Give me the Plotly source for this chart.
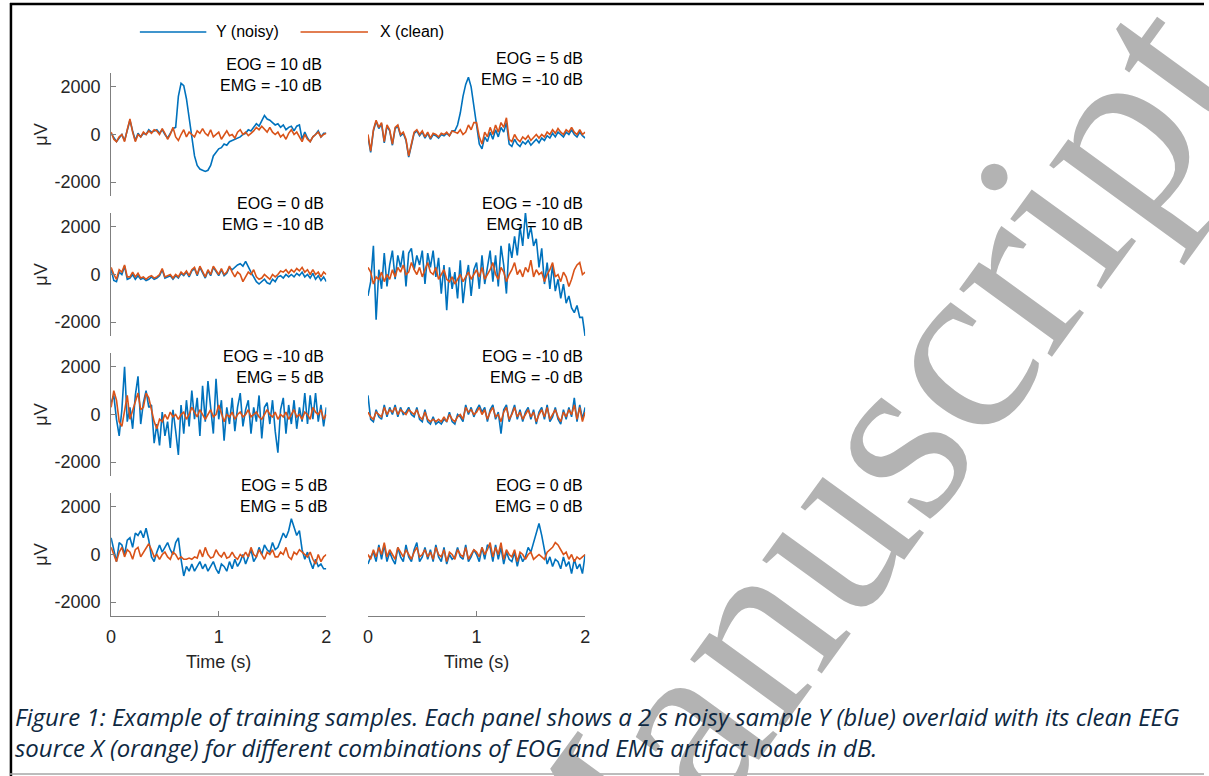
import numpy as np
import plotly.graph_objects as go

# ---------------- data ----------------
t = np.linspace(0, 2, 81)  # sample times (s)

labels_eog = ["EOG = 10 dB", "EOG = 5 dB", "EOG = 0 dB", "EOG = -10 dB",
              "EOG = -10 dB", "EOG = -10 dB", "EOG = 5 dB", "EOG = 0 dB"]
labels_emg = ["EMG = -10 dB", "EMG = -10 dB", "EMG = -10 dB", "EMG = 10 dB",
              "EMG = 5 dB", "EMG = -0 dB", "EMG = 5 dB", "EMG = 0 dB"]

legend_names = ["Y (noisy)", "X (clean)"]
x_ticks = [0, 1, 2]
y_ticks = [-2000, 0, 2000]

# panel 1: EOG 10 / EMG -10
x1 = [100, -200, -300, -100, 0, -300, 200, 650, 100, -300,
      0, -100, 100, 0, 150, 50, 200, 150, 0, 250,
      50, -200, 0, 300, -100, -250, 0, 200, -100, 100,
      0, -100, 150, 50, 250, 50, -50, 200, -100, 0,
      100, -200, 0, 150, -50, 0, -150, 100, 200, 0,
      100, -50, 50, 150, 300, 200, 350, 200, 100, 300,
      100, 0, 100, -100, 0, -200, 50, 200, 0, 100,
      -100, -300, 0, -200, -300, -100, 0, 100, -100, 0,
      50]
y1 = [50, -150, -300, -150, 0, -250, 200, 600, 150, -250,
      50, -100, 50, 0, 200, 100, 150, 200, 50, 200,
      0, -150, 50, 250, 300, 1600, 2150, 2050, 1500, 700,
      -100, -900, -1300, -1450, -1500, -1550, -1500, -1300, -900, -750,
      -600, -550, -400, -450, -300, -250, -200, -150, -100, 0,
      50, 200, 150, 300, 450, 350, 600, 800, 650, 600,
      500, 400, 450, 300, 400, 200, 300, 350, 150, 350,
      400, -200, 100, -150, -300, -100, 0, 150, -100, 50,
      50]

# panel 2: EOG 5 / EMG -10
x2 = [0, -700, 200, 600, 300, 500, -300, 400, 200, -400,
      300, 400, 0, 100, -200, -900, -400, 100, 200, 0,
      150, -100, 100, -150, 50, 0, -100, 50, 0, 100,
      -50, 150, 100, 50, 200, 0, 100, 400, 200, 500,
      500, -100, -400, 100, -100, 300, 0, 400, 100, 500,
      300, 700, -200, -300, 0, -200, -300, -100, -200, -50,
      -250, -100, 0, -150, 0, -100, 100, 0, 200, 50,
      250, 100, 0, 200, 100, 300, 100, 0, 200, 0,
      100]
y2 = [-100, -750, 150, 550, 250, 450, -350, 350, 150, -450,
      250, 350, -50, 50, -250, -950, -450, 50, 150, -50,
      100, -150, 50, -200, 0, -50, -150, 0, -50, 50,
      -50, 150, 150, 400, 900, 1600, 2100, 2400, 2000, 1200,
      400, -400, -600, -100, -300, 100, -200, 200, -100, 300,
      100, 500, -400, -500, -200, -400, -500, -300, -400, -250,
      -450, -300, -200, -350, -150, -250, -50, -150, 50, -100,
      100, 0, -100, 100, 0, 200, 0, -100, 100, -50,
      -150]

# panel 3: EOG 0 / EMG -10
x3 = [300, 0, -200, 200, 100, 400, -100, -100, 100, -100,
      50, -150, -100, -200, -100, -50, -150, -100, 0, 250,
      -100, -50, 0, -150, 0, -100, 100, 0, 150, -50,
      200, 300, 0, 350, 100, -100, 200, 0, 350, 200,
      0, 250, 0, 100, 350, 100, -100, 100, 0, -300,
      -100, 100, 0, 200, -100, -200, -150, 0, -100, -200,
      0, -100, 0, 150, 100, 200, 50, 200, 100, 250,
      150, 300, 100, 200, 0, 200, 0, 100, -100, 100,
      0]
y3 = [200, -250, -300, 100, 0, 350, -200, -150, 0, -200,
      -50, -200, -150, -250, -200, -100, -200, -150, -50, 200,
      -150, -100, -50, -200, -50, -150, 50, -50, 100, -100,
      150, 250, -50, 300, 50, -150, 150, -50, 300, 150,
      -50, 200, -50, 50, 300, 200, 300, 400, 450, 350,
      550, 300, 100, -100, -300, -400, -300, -200, -350, -400,
      -200, -300, -100, -50, -150, 0, -100, 0, -100, 50,
      -50, 100, -100, 0, -150, 50, -200, -50, -250, -100,
      -300]

# panel 4: EOG -10 / EMG 10
x4 = [300, 100, -400, -100, -200, 100, -300, 0, -200, 200,
      -100, 300, 100, 400, 0, 100, 500, 200, 0, 300,
      -100, 200, 500, 100, 0, 300, -200, 0, 200, -200,
      -300, -100, -400, -200, 0, -300, -100, 100, -200, 0,
      200, -100, 300, -200, 0, 200, 500, 0, -200, 300,
      100, -300, 0, 200, 500, 0, 200, -100, 300, 100,
      600, -100, 200, 0, 100, -300, 0, 200, 500, -100,
      0, -300, 100, -100, -500, -200, 200, 400, 500, 0,
      100]
y4 = [-900, -300, 1200, -1900, 200, -600, 900, -500, 400, 1000,
      -200, 800, 300, 1000, -500, 900, 1100, 200, 800, 400,
      1000, -400, 900, 300, 1000, -100, 700, -800, 400, -1500,
      300, -600, 100, -1000, 600, -1200, -200, 400, -900, 200,
      500, -600, 800, -400, 300, 1000, -300, 800, -500, 1200,
      400, -800, 1300, 700, 1600, 800, 2000, 1200, 2600, 1500,
      2000, 1200, 1500, 300, 1100, -400, 500, -600, 400, -700,
      -200, -1000, -400, -1200, -900, -1400, -1600, -1300, -1800, -1800,
      -2600]

# panel 5: EOG -10 / EMG 5
x5 = [300, 1000, 600, -300, -500, 100, 800, -200, 200, 500,
      900, 200, 300, 900, 700, 200, -300, -600, -200, -300,
      0, -200, 100, -100, 0, -200, 0, 100, -200, 0,
      300, 100, -100, 200, 0, -200, 0, 200, -100, 0,
      400, 0, -300, 0, -100, 100, -200, 0, 100, -100,
      0, 200, -100, 0, 100, -100, -200, 0, 200, 0,
      -100, 100, -200, 0, -100, 100, -200, 0, 200, -100,
      0, -200, 100, 0, -200, 300, 100, 0, 200, -200,
      0]
y5 = [500, 800, -200, -900, 200, 2000, -300, 300, -600, 800,
      1600, -400, 500, 1000, 300, 400, -1200, -400, -1300, 100,
      -900, -300, -1400, 200, -700, -1700, 400, -800, 600, -500,
      1000, -200, 700, -900, 1200, -300, 1400, 200, -800, 1500,
      -200, 600, -1100, 300, -400, 700, -700, 300, 900, -500,
      200, 600, -800, 300, -300, 800, -1000, 300, 500, -400,
      600, -700, -1600, 200, 700, -800, 400, -400, 600, -600,
      300, -300, 900, -400, 800, -200, 900, -300, 400, -500,
      300]

# panel 6: EOG -10 / EMG -0
x6 = [100, -100, -200, 100, 0, -100, 300, 0, 200, 100,
      300, 0, 200, 100, 0, 200, 100, 0, 200, -100,
      -200, 100, -200, -300, -200, -300, -200, -300, -100, -300,
      0, -200, -300, -100, 0, -200, 300, 100, 200, 0,
      100, 300, 0, 200, -200, 100, 300, -100, 0, -300,
      100, 300, -200, 0, 300, -100, 100, -200, 0, 200,
      -100, 100, -300, 0, 200, -100, 300, -200, 0, 200,
      -100, -300, 100, -100, 200, 0, 400, -200, 300, -300,
      100]
y6 = [800, -200, -300, 200, -100, -200, 400, -100, 300, 0,
      400, -100, 300, 0, 100, 300, 0, -100, 300, -200,
      -300, 200, -300, -400, -100, -400, -300, -400, -200, -300,
      100, -300, -400, 0, -100, -300, 400, 0, 300, -100,
      200, 400, 100, 300, -300, 200, 400, -200, 100, -800,
      200, 400, -300, 100, 400, -200, 200, -300, 100, 300,
      -200, 200, -400, 100, 300, -200, 400, -300, -100, 300,
      -200, -400, 200, -200, 300, -100, 700, -300, 400, -200,
      300]

# panel 7: EOG 5 / EMG 5
x7 = [300, 0, -300, 100, 300, -100, 200, 100, -200, 200,
      300, -100, 100, 300, 450, 200, -100, 0, -200, 0,
      100, -100, -200, 100, 0, -200, -100, -200, -200, -150,
      -200, -100, -150, 200, -100, 300, 0, -150, -100, 200,
      0, -100, 100, -150, -100, 100, -100, -200, 0, -100,
      100, -100, 300, 0, -100, 200, 0, -200, 100, 0,
      200, -100, -100, 100, 0, 300, -100, -200, 100, 0,
      200, 100, 0, -100, 100, -200, -400, 0, -300, -100,
      0]
y7 = [700, 200, -300, 500, 400, 0, 600, 700, 300, 900,
      800, 1000, 700, 1100, 600, -100, -300, 100, 400, 100,
      300, 500, 200, 0, 500, 700, -200, -900, -500, -700,
      -400, -700, -500, -300, -600, -400, -700, -500, -300, -600,
      -800, -400, -500, -700, -300, -600, -200, -500, -300, 0,
      -400, -100, 200, -300, -100, 300, 0, 400, 200, 100,
      500, 200, 300, 600, 900, 700, 1000, 1500, 1100, 800,
      1000, 200, -200, 100, -300, -600, -200, -500, -400, -600,
      -600]

# panel 8: EOG 0 / EMG 0
x8 = [0, -200, 200, -100, 300, 0, 500, -100, 200, 0,
      -200, 300, 100, -100, 200, 0, -200, 100, 300, -100,
      0, 200, -100, 100, -200, 300, 0, -100, 200, -300,
      100, 0, -200, 200, 0, -100, 300, -200, 0, 200,
      100, -100, 300, 0, 200, 500, -100, 300, 0, 500,
      -200, 200, 0, -100, 200, -300, 100, 0, -200, 0,
      100, -200, -100, 0, -100, -200, 100, 200, 300, 500,
      400, 200, 0, 100, -200, 0, -300, -100, -200, -100,
      0]
y8 = [-400, -100, 100, -300, 400, -200, 400, -300, 100, -200,
      -400, 300, -100, -300, 400, -100, -300, 200, 500, -300,
      -100, 300, -200, 200, -300, 400, -100, -300, 300, -400,
      0, -200, -100, 300, -100, -200, 400, -300, -100, 200,
      0, -300, 300, -200, 400, 300, -300, 400, -200, 300,
      -400, 100, -200, -300, 100, -500, 0, -300, -100, 300,
      100, 500, 900, 1300, 800, 200, -400, -100, -500, -200,
      -300, -600, -100, -500, -300, -800, -200, -600, -400, -800,
      0]

noisy = [y1, y2, y3, y4, y5, y6, y7, y8]
clean = [x1, x2, x3, x4, x5, x6, x7, x8]

caption_lines = [
    "Figure 1: Example of training samples. Each panel shows a 2 s noisy sample Y (blue) overlaid with its clean EEG",
    "source X (orange) for different combinations of EOG and EMG artifact loads in dB.",
]
watermark_text = "Manuscript"

# ---------------- layout / style ----------------
W, H = 1209, 776
BLUE = "#0072BD"
ORANGE = "#D95319"
TXT = "#262626"
AXC = "#7f7f7f"
FONT = "Liberation Sans, Arial, sans-serif"

col_px = [(107, 324), (366, 585)]
row_top = [73, 213, 353, 493]
row_h = 123
YR = [-2580, 2580]

# label anchors (right edge x, centre y) in pixels
label_pos = [(322, 75), (585, 69), (324, 214), (585, 214),
             (324, 367), (585, 367), (328, 496), (585, 496)]


def px(xp):
    return xp / W


def py(yp):
    return 1 - yp / H


fig = go.Figure()
layout = {}
annotations = []
shapes = []

for i in range(8):
    r, c = divmod(i, 2)
    n = i + 1
    xa = "x" if n == 1 else f"x{n}"
    ya = "y" if n == 1 else f"y{n}"
    fig.add_trace(go.Scatter(x=t, y=noisy[i], mode="lines", xaxis=xa, yaxis=ya,
                             line=dict(color=BLUE, width=1.6), showlegend=False,
                             name=legend_names[0]))
    fig.add_trace(go.Scatter(x=t, y=clean[i], mode="lines", xaxis=xa, yaxis=ya,
                             line=dict(color=ORANGE, width=1.6), showlegend=False,
                             name=legend_names[1]))
    x0, x1p = col_px[c]
    top = row_top[r]
    xaxis = dict(domain=[px(x0), px(x1p)], range=[0, 2], anchor=ya,
                 showgrid=False, zeroline=False, fixedrange=True)
    if r == 3:
        xaxis.update(visible=True, showline=True, linecolor=AXC, linewidth=1,
                     ticks="inside", ticklen=5, tickcolor=AXC,
                     tickvals=x_ticks, ticktext=[str(v) for v in x_ticks],
                     tickfont=dict(family=FONT, size=18, color=TXT),
                     ticklabelstandoff=4,
                     title=dict(text="Time (s)", standoff=9,
                                font=dict(family=FONT, size=18, color=TXT)))
    else:
        xaxis.update(visible=False)
    yaxis = dict(domain=[py(top + row_h), py(top)], range=YR, anchor=xa,
                 showgrid=False, zeroline=False, fixedrange=True)
    if c == 0:
        yaxis.update(visible=True, showline=True, linecolor=AXC, linewidth=1,
                     ticks="inside", ticklen=5, tickcolor=AXC,
                     tickvals=y_ticks, ticktext=[str(v) for v in y_ticks],
                     tickfont=dict(family=FONT, size=18, color=TXT),
                     ticklabelstandoff=6,
                     title=dict(text="μV", standoff=2,
                                font=dict(family=FONT, size=18, color=TXT)))
    else:
        yaxis.update(visible=False)
    layout["xaxis" if n == 1 else f"xaxis{n}"] = xaxis
    layout["yaxis" if n == 1 else f"yaxis{n}"] = yaxis

    lx, ly = label_pos[i]
    annotations.append(dict(text=labels_eog[i] + "<br>" + labels_emg[i],
                            xref="paper", yref="paper", x=px(lx), y=py(ly),
                            xanchor="right", yanchor="middle", align="right",
                            showarrow=False,
                            font=dict(family=FONT, size=16, color="#000000")))

# watermark (drawn first so caption sits on top)
annotations.insert(0, dict(text=watermark_text, xref="paper", yref="paper",
                           x=px(852), y=py(490), xanchor="center", yanchor="middle",
                           textangle=-54, showarrow=False,
                           font=dict(family="Liberation Serif, Times New Roman, serif",
                                     size=250, color="#b3b3b3")))

# manual legend
leg = [(136, 203, 211, BLUE, legend_names[0]), (298, 366, 376, ORANGE, legend_names[1])]
for lx0, lx1, tx, col, name in leg:
    shapes.append(dict(type="line", xref="paper", yref="paper",
                       x0=px(lx0), x1=px(lx1), y0=py(32), y1=py(32),
                       line=dict(color=col, width=1.6)))
    annotations.append(dict(text=name, xref="paper", yref="paper", x=px(tx), y=py(32),
                            xanchor="left", yanchor="middle", showarrow=False,
                            font=dict(family=FONT, size=16, color="#000000")))

# caption (one two-line text block)
annotations.append(dict(text="<i>" + "<br>".join(caption_lines) + "</i>",
                        xref="paper", yref="paper", x=px(8), y=py(732),
                        xanchor="left", yanchor="middle", align="left",
                        showarrow=False,
                        font=dict(family="Open Sans, Noto Sans, sans-serif",
                                  size=24, color="#0e2841")))

# frame lines
shapes.append(dict(type="line", xref="paper", yref="paper", x0=px(5), x1=1.0,
                   y0=py(4), y1=py(4), line=dict(color="#000000", width=2.5)))
shapes.append(dict(type="line", xref="paper", yref="paper", x0=px(6), x1=px(6),
                   y0=py(3), y1=0.0, line=dict(color="#000000", width=2.5)))
shapes.append(dict(type="line", xref="paper", yref="paper", x0=px(5), x1=1.0,
                   y0=py(774), y1=py(774), line=dict(color="#a6a6a6", width=1.5)))

fig.update_layout(width=W, height=H, margin=dict(l=0, r=0, t=0, b=0),
                  paper_bgcolor="white", plot_bgcolor="white",
                  annotations=annotations, shapes=shapes, showlegend=False,
                  **layout)

fig.write_html("out.html", config={"displayModeBar": False})
